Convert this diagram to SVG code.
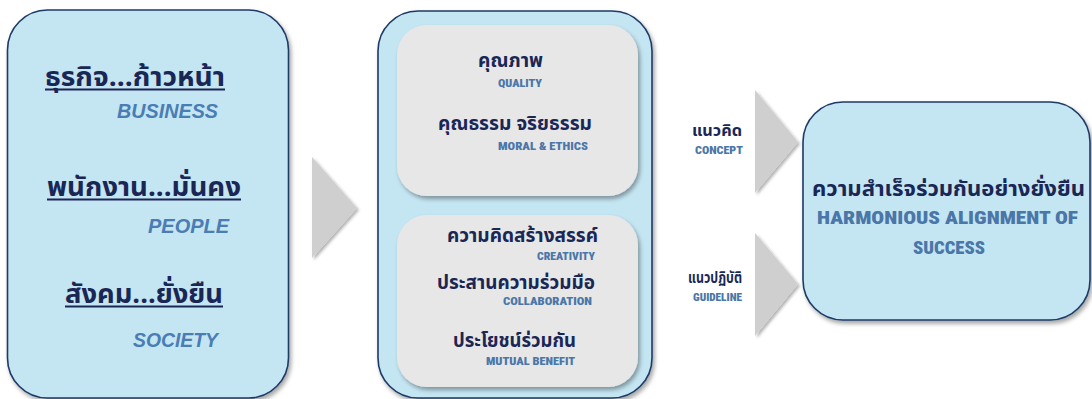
<svg xmlns="http://www.w3.org/2000/svg" width="1092" height="399" viewBox="0 0 1092 399">
<defs>
<filter id="sh" x="-10%" y="-10%" width="125%" height="125%">
<feDropShadow dx="2" dy="3" stdDeviation="2" flood-color="#000" flood-opacity="0.35"/>
</filter>
<filter id="shc" x="-20%" y="-20%" width="150%" height="150%">
<feDropShadow dx="2" dy="2" stdDeviation="1.5" flood-color="#000" flood-opacity="0.3"/>
</filter>
<style>
.box{fill:#c4e5f2;stroke:#1f3a66;stroke-width:1.6}
.inner{fill:#e7e7e8;stroke:none}
.chev{fill:#cfcfd0}
.th{font-family:"Noto Sans Thai","Noto Sans","DejaVu Sans",sans-serif;font-weight:bold;fill:#1a2755}
.en{font-family:"Roboto Condensed","Liberation Sans Narrow","Roboto","Liberation Sans",sans-serif;font-weight:900;fill:#4a76a8}
.eni{font-family:"Liberation Sans","Roboto",sans-serif;font-weight:bold;font-style:italic;fill:#4a7db4}
.ul{stroke:#1a2755;stroke-width:2}
</style>
</defs>
<rect width="1092" height="399" fill="#ffffff"/>

<g id="connectors">
<polygon class="chev" filter="url(#shc)" points="312,157 357,208 312,258"/>
<polygon class="chev" filter="url(#shc)" points="755,90 798,142 755,193"/>
<polygon class="chev" filter="url(#shc)" points="755,233 798,284 755,336"/>
<text class="th" x="742" y="136" font-size="15" text-anchor="end" textLength="50" lengthAdjust="spacingAndGlyphs">แนวคิด</text>
<text class="en" x="743" y="154" font-size="11.5" text-anchor="end" textLength="48" lengthAdjust="spacingAndGlyphs">CONCEPT</text>
<text class="th" x="742" y="283" font-size="15" text-anchor="end" textLength="54" lengthAdjust="spacingAndGlyphs">แนวปฏิบัติ</text>
<text class="en" x="742" y="301" font-size="11.5" text-anchor="end" textLength="49" lengthAdjust="spacingAndGlyphs">GUIDELINE</text>
</g>

<g id="node-left">
<rect class="box" filter="url(#sh)" x="7.5" y="10" width="281" height="388" rx="40"/>
<text class="th" x="45" y="86" font-size="27" textLength="180" lengthAdjust="spacingAndGlyphs">ธุรกิจ...ก้าวหน้า</text>
<line class="ul" x1="45" y1="89.5" x2="225" y2="89.5"/>
<text class="eni" x="117" y="118" font-size="21" textLength="101" lengthAdjust="spacingAndGlyphs">BUSINESS</text>
<text class="th" x="47" y="196" font-size="27" textLength="194" lengthAdjust="spacingAndGlyphs">พนักงาน...มั่นคง</text>
<line class="ul" x1="47" y1="199.5" x2="241" y2="199.5"/>
<text class="eni" x="148" y="233" font-size="21" textLength="81" lengthAdjust="spacingAndGlyphs">PEOPLE</text>
<text class="th" x="65" y="303" font-size="27" textLength="158" lengthAdjust="spacingAndGlyphs">สังคม...ยั่งยืน</text>
<line class="ul" x1="65" y1="306.5" x2="223" y2="306.5"/>
<text class="eni" x="133" y="347" font-size="21" textLength="85" lengthAdjust="spacingAndGlyphs">SOCIETY</text>
</g>

<g id="node-middle">
<rect class="box" filter="url(#sh)" x="378" y="11" width="274" height="387" rx="40"/>
<rect class="inner" filter="url(#sh)" x="397" y="25" width="241" height="171" rx="30"/>
<rect class="inner" filter="url(#sh)" x="397" y="215" width="241" height="172" rx="30"/>
<text class="th" x="478" y="67" font-size="19" textLength="65" lengthAdjust="spacingAndGlyphs">คุณภาพ</text>
<text class="en" x="498" y="87" font-size="11.5" textLength="44" lengthAdjust="spacingAndGlyphs">QUALITY</text>
<text class="th" x="438" y="130" font-size="19" textLength="154" lengthAdjust="spacingAndGlyphs">คุณธรรม จริยธรรม</text>
<text class="en" x="498" y="150" font-size="11.5" textLength="90" lengthAdjust="spacingAndGlyphs">MORAL &amp; ETHICS</text>
<text class="th" x="447" y="242" font-size="18.5" textLength="151" lengthAdjust="spacingAndGlyphs">ความคิดสร้างสรรค์</text>
<text class="en" x="537" y="260" font-size="11" textLength="58" lengthAdjust="spacingAndGlyphs">CREATIVITY</text>
<text class="th" x="437" y="289" font-size="18.5" textLength="158" lengthAdjust="spacingAndGlyphs">ประสานความร่วมมือ</text>
<text class="en" x="503" y="305" font-size="11" textLength="89" lengthAdjust="spacingAndGlyphs">COLLABORATION</text>
<text class="th" x="453" y="347" font-size="19" textLength="123" lengthAdjust="spacingAndGlyphs">ประโยชน์ร่วมกัน</text>
<text class="en" x="486" y="365" font-size="11.5" textLength="89" lengthAdjust="spacingAndGlyphs">MUTUAL BENEFIT</text>
</g>

<g id="node-right">
<rect class="box" filter="url(#sh)" x="803" y="102" width="287" height="218" rx="40"/>
<text class="th" x="812" y="196" font-size="21.5" textLength="273" lengthAdjust="spacingAndGlyphs">ความสำเร็จร่วมกันอย่างยั่งยืน</text>
<text class="en" x="817" y="224" font-size="18" textLength="261" lengthAdjust="spacingAndGlyphs">HARMONIOUS ALIGNMENT OF</text>
<text class="en" x="913" y="254" font-size="18" textLength="72" lengthAdjust="spacingAndGlyphs">SUCCESS</text>
</g>
</svg>
